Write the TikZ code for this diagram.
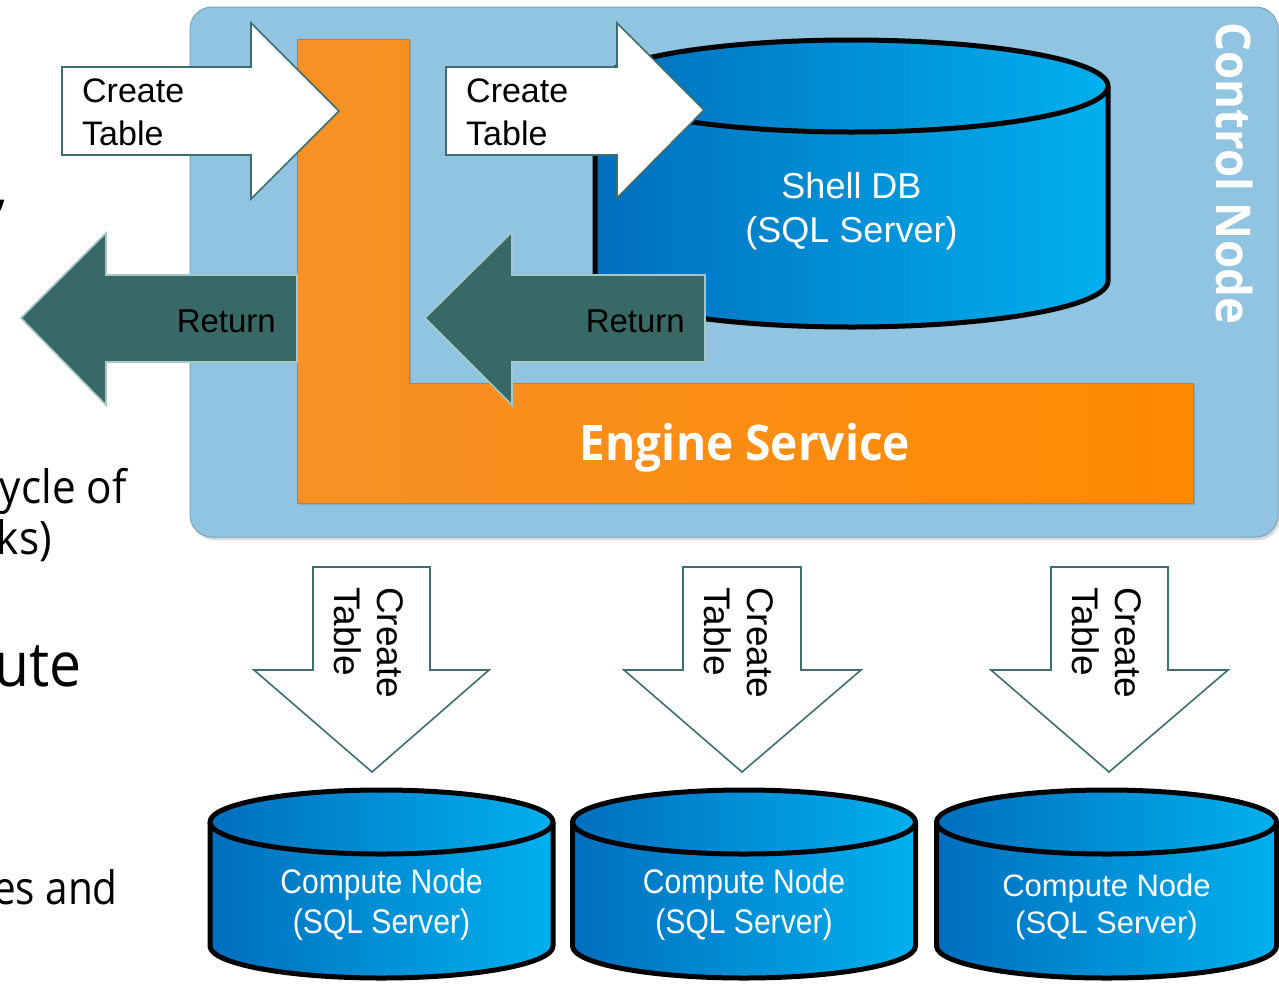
\documentclass[tikz,border=0pt]{standalone}
\usepackage{fontspec}
\setmainfont{Liberation Sans}
\newfontfamily\segoe{Open Sans}
\definecolor{panelblue}{RGB}{145,196,225}
\definecolor{panelline}{RGB}{120,165,192}
\definecolor{orangeL}{RGB}{247,145,38}
\definecolor{orangeR}{RGB}{255,137,0}
\definecolor{orangeline}{RGB}{214,118,30}
\definecolor{dbdark}{RGB}{0,110,190}
\definecolor{dblight}{RGB}{0,176,238}
\definecolor{arrowline}{RGB}{62,110,110}
\definecolor{retfill}{RGB}{56,105,102}
\definecolor{retline}{RGB}{165,200,200}
\tikzset{
  panelbox/.style={fill=panelblue, draw=panelline, line width=1pt, rounded corners=22pt},
  softshadow/.style={fill=black, opacity=0.15, rounded corners=22pt},
  orangeshape/.style={left color=orangeL, right color=orangeR, draw=orangeline, line width=1pt},
  wharrow/.style={fill=white, draw=arrowline, line width=1.6pt, line join=miter},
  retarrow/.style={fill=retfill, draw=retline, line width=1.6pt, line join=miter},
  dbline/.style={draw=black, line width=5pt, line join=round},
  dbshade/.style={left color=dbdark, right color=dblight},
  arrowlbl/.style={inner sep=0pt, align=left, text=black, font=\fontsize{34}{43}\selectfont},
  vlbl/.style={inner sep=0pt, align=left, text=black, rotate=-90, anchor=base west, font=\fontsize{37}{43}\selectfont},
  dblbl/.style={inner sep=0pt, align=center, text=white, font=\fontsize{36}{44}\selectfont},
  cnlbl/.style={inner sep=0pt, align=center, text=white, font=\fontsize{31}{37}\selectfont},
  slidetxt/.style={inner sep=0pt, text=black, anchor=base east, font=\segoe\fontsize{46}{56}\selectfont},
}
\newcommand\mycyl[5]{% cx rx ty by ry
  \path[dbshade] (#1-#2,#3) -- (#1-#2,#4) arc[start angle=180,end angle=360,x radius=#2pt,y radius=#5pt] -- (#1+#2,#3) -- cycle;
  \draw[dbline] (#1-#2,#3) -- (#1-#2,#4) arc[start angle=180,end angle=360,x radius=#2pt,y radius=#5pt] -- (#1+#2,#3);
  \draw[dbline,dbshade] (#1,#3) ellipse[x radius=#2pt,y radius=#5pt];
}
\begin{document}
\begin{tikzpicture}[x=1pt,y=-1pt]
\useasboundingbox (0,0) rectangle (1279,983);

% slide text fragments at the left edge
\node[slidetxt] (s0) at (8,205) {,};
\node[slidetxt] (s1) at (127,503) {\scalebox{0.92}[1]{ycle of}};
\node[slidetxt] (s2) at (52,554) {\scalebox{0.92}[1]{ks)}};
\node[slidetxt, font=\segoe\fontsize{62}{72}\selectfont] (s3) at (82,686) {\scalebox{0.92}[1]{ute}};
\node[slidetxt] (s4) at (118,904) {\scalebox{0.88}[1]{es and}};

% control node panel
\path[softshadow] (192,10) rectangle (1280,540);
\path[panelbox] (190,7) rectangle (1278,537);
\node[inner sep=0pt, rotate=-90, anchor=base west, text=white, font=\segoe\bfseries\fontsize{48}{56}\selectfont] (ctrl) at (1216,22) {\scalebox{0.95}[1]{Control Node}};

% engine service
\path[fill=black, opacity=0.12] (299,41) -- (411,41) -- (411,385) -- (1195,385) -- (1195,505) -- (299,505) -- cycle;
\path[orangeshape] (297,39) -- (409,39) -- (409,383) -- (1193,383) -- (1193,503) -- (297,503) -- cycle;
\node[inner sep=0pt, anchor=base, text=white, font=\segoe\bfseries\fontsize{49}{56}\selectfont] (eng) at (745,460) {\scalebox{0.94}[1]{Engine Service}};

% shell DB
\mycyl{851.5}{256.5}{86}{281}{46}
\node[dblbl, anchor=base] (shell) at (851.5,242) {Shell DB\\(SQL Server)};

% create table arrows (top)
\path[wharrow] (62,67) -- (251,67) -- (251,23) -- (339,111) -- (251,199) -- (251,155) -- (62,155) -- cycle;
\node[arrowlbl, anchor=base west] (ct1) at (82,145) {Create\\Table};
\path[wharrow] (446,67) -- (617,67) -- (617,23) -- (704,110) -- (617,198) -- (617,155) -- (446,155) -- cycle;
\node[arrowlbl, anchor=base west] (ct2) at (466,145) {Create\\Table};

% return arrows
\path[retarrow] (297,275) -- (106,275) -- (106,233) -- (21,318) -- (106,405) -- (106,362) -- (297,362) -- cycle;
\node[arrowlbl, anchor=base east, font=\fontsize{33}{40}\selectfont] (ret1) at (276,332) {Return};
\path[retarrow] (705,275) -- (512,275) -- (512,232) -- (425,318) -- (512,405) -- (512,362) -- (705,362) -- cycle;
\node[arrowlbl, anchor=base east, font=\fontsize{33}{40}\selectfont] (ret2) at (685,332) {Return};

% down arrows
\path[wharrow] (313,567) -- (430,567) -- (430,670) -- (489,670) -- (372,772) -- (254,670) -- (313,670) -- cycle;
\node[vlbl] (dt1) at (334,587) {Create\\Table};
\path[wharrow] (683,567) -- (801,567) -- (801,670) -- (861,670) -- (742,772) -- (624,670) -- (683,670) -- cycle;
\node[vlbl] (dt2) at (704,587) {Create\\Table};
\path[wharrow] (1051,567) -- (1168,567) -- (1168,670) -- (1228,670) -- (1109,772) -- (991,670) -- (1051,670) -- cycle;
\node[vlbl] (dt3) at (1072,587) {Create\\Table};

% compute nodes
\mycyl{381.5}{171.5}{822}{946}{32}
\node[cnlbl, anchor=base] (cn1) at (381.5,933) {\scalebox{0.97}[1.1]{\shortstack{Compute Node\\[4pt](SQL Server)}}};
\mycyl{744}{171.5}{822}{946}{32}
\node[cnlbl, anchor=base] (cn2) at (744,933) {\scalebox{0.97}[1.1]{\shortstack{Compute Node\\[4pt](SQL Server)}}};
\mycyl{1106.5}{170}{822}{946}{32}
\node[cnlbl, anchor=base] (cn3) at (1106.5,933) {Compute Node\\(SQL Server)};
\end{tikzpicture}
\end{document}
